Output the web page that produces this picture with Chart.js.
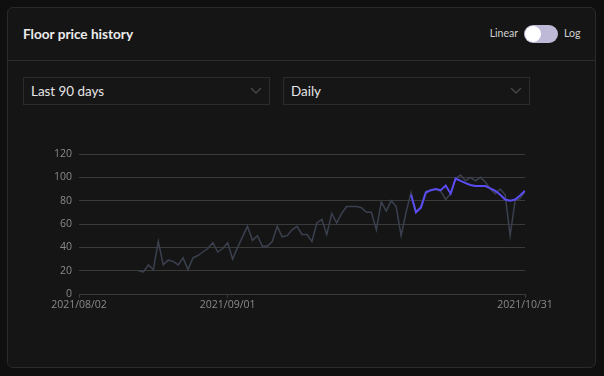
<!DOCTYPE html>
<html>
<head>
<meta charset="utf-8">
<script src="https://cdn.jsdelivr.net/npm/chart.js@4/dist/chart.umd.min.js"></script>
<style>
  html, body { margin: 0; padding: 0; }
  body {
    width: 604px; height: 376px; background: #0f0f0f; overflow: hidden;
    font-family: Lato, "Open Sans", sans-serif; position: relative;
  }
  .card {
    position: absolute; left: 7px; top: 7px; width: 587px; height: 359px;
    background: #151515; border: 1px solid #2a2a2a; border-radius: 6px;
  }
  .head {
    position: absolute; left: 0; top: 0; right: 0; height: 52px;
    border-bottom: 1px solid #2e2e2e;
  }
  .title {
    position: absolute; left: 15px; top: 18px; color: #ececec;
    font-size: 13.6px; font-weight: 700;
  }
  .lbl { position: absolute; top: 19px; color: #d0d0d0; font-size: 10.5px; }
  .track {
    position: absolute; left: 516px; top: 17px; width: 34px; height: 18px;
    border-radius: 9px; background: #bdb9d6;
  }
  .knob {
    position: absolute; left: 1px; top: 1px; width: 16px; height: 16px;
    border-radius: 8px; background: #fff;
  }
  .sel {
    position: absolute; top: 69px; height: 26px; border: 1px solid #2c2c2c;
    background: #161616; color: #e6e6e6; font-size: 13.4px; line-height: 27px;
    padding-left: 7px; box-sizing: content-box;
  }
  .sel svg { position: absolute; right: 7px; top: 9px; }
  #wrap { position: absolute; left: 40px; top: 140px; width: 515px; height: 180px; }
</style>
</head>
<body>
<div class="card">
  <div class="head">
    <div class="title">Floor price history</div>
    <div class="lbl" style="left:450px; width:60px; text-align:right">Linear</div>
    <div class="track"><div class="knob"></div></div>
    <div class="lbl" style="left:556px">Log</div>
  </div>
  <div class="sel" style="left:15px; width:238px">Last 90 days
    <svg width="12" height="8"><path d="M1 1 L6 6 L11 1" stroke="#444" stroke-width="1.5" fill="none"/></svg>
  </div>
  <div class="sel" style="left:275px; width:238px">Daily
    <svg width="12" height="8"><path d="M1 1 L6 6 L11 1" stroke="#444" stroke-width="1.5" fill="none"/></svg>
  </div>
</div>
<div id="wrap"><canvas id="myChart"></canvas></div>
<script>
// day 0 = 2021/08/02, day 90 = 2021/10/31
const tickDays = [0, 30, 90];
const tickLabels = ['2021/08/02', '2021/09/01', '2021/10/31'];
const yTicks = [0, 20, 40, 60, 80, 100, 120];

// daily floor price, starting at day 12
const dailyStart = 12;
const dailyFloor = [
  20, 19, 25, 21, 45, 25, 29, 28,
  25, 31, 21, 31, 33, 36, 39, 44, 36, 39,
  44, 30, 40, 49, 58, 46, 50, 41, 41, 45,
  58, 49, 50, 55, 58, 51, 51, 45, 61, 64,
  51, 69, 61, 69, 75, 75, 75, 74, 70, 70,
  55, 79, 71, 80, 75, 50, 70, 87, 70, 75,
  88, 89, 90, 88, 81, 86, 99, 102, 97, 100,
  97, 100, 96, 90, 86, 90, 85, 50, 80, 82,
  88
];

// highlighted series, starting at day 67
const avgStart = 67;
const avgFloor = [
  85, 70, 74,
  87, 89, 90, 89, 93, 86, 99, 97, 95, 93.5,
  92.5, 92.5, 92.5, 90.5, 88.5, 85, 81, 80, 81, 84.5,
  88.5
];

const ctx = document.getElementById('myChart');

const myChart = new Chart(ctx, {
  type: 'line',
  data: {
    datasets: [{
      label: 'avg',
      data: avgFloor.map((v, i) => ({ x: avgStart + i, y: v })),
      borderColor: '#5a4cf2',
      borderWidth: 2,
      pointRadius: 0,
      tension: 0
    }, {
      label: 'floor',
      data: dailyFloor.map((v, i) => ({ x: dailyStart + i, y: v })),
      borderColor: '#3a404e',
      borderWidth: 1.5,
      pointRadius: 0,
      tension: 0
    }]
  },
  options: {
    responsive: true,
    maintainAspectRatio: false,
    animation: false,
    layout: { padding: { top: 14, right: 30, left: 0, bottom: 0 } },
    plugins: {
      legend: { display: false },
      tooltip: { enabled: false }
    },
    scales: {
      x: {
        type: 'linear',
        min: 0,
        max: 90,
        afterBuildTicks: (scale) => { scale.ticks = tickDays.map(v => ({ value: v })); },
        afterFit: (scale) => { scale.height = 26; },
        ticks: {
          color: '#8a8a8a',
          font: { size: 10.5, family: 'Open Sans' },
          maxRotation: 0,
          autoSkip: false,
          padding: 1,
          callback: (v) => tickLabels[tickDays.indexOf(v)]
        },
        grid: { drawOnChartArea: false, drawTicks: true, tickLength: 4, color: '#3a3a3a' },
        border: { color: '#3a3a3a', width: 1 }
      },
      y: {
        min: 0,
        max: 120,
        afterBuildTicks: (scale) => { scale.ticks = yTicks.map(v => ({ value: v })); },
        afterFit: (scale) => { scale.width = 39; },
        ticks: {
          color: '#8a8a8a',
          font: { size: 10.5, family: 'Open Sans' },
          padding: 7
        },
        grid: { color: '#3a3a3a', drawTicks: false },
        border: { display: false }
      }
    }
  }
});
</script>
</body>
</html>
